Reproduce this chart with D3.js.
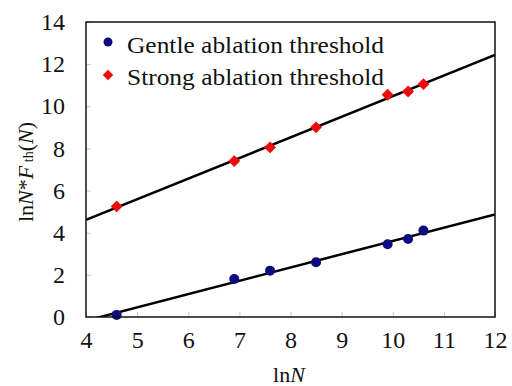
<!DOCTYPE html>
<html>
<head>
<meta charset="utf-8">
<script src="https://cdn.jsdelivr.net/npm/d3@7"></script>
<style>
  body { margin: 0; background: #fff; }
</style>
</head>
<body>
<div id="chart"></div>
<script>
// data
var lnN = [4.6, 6.9, 7.6, 8.5, 9.9, 10.3, 10.6];
var gentle = [0.1, 1.8, 2.2, 2.6, 3.45, 3.7, 4.1];
var strong = [5.25, 7.4, 8.05, 9.0, 10.55, 10.7, 11.05];
var xTicks = [4, 5, 6, 7, 8, 9, 10, 11, 12];
var yTicks = [0, 2, 4, 6, 8, 10, 12, 14];
var seriesNames = ["Gentle ablation threshold", "Strong ablation threshold"];

var width = 512, height = 386;
var margin = {top: 22, right: 17, bottom: 69, left: 86};
var serif = "'Liberation Serif', 'Times New Roman', Times, serif";

var svg = d3.select("#chart").append("svg")
  .attr("width", width)
  .attr("height", height)
  .attr("font-family", serif);

var x = d3.scaleLinear().domain([4, 12]).range([margin.left, width - margin.right]);
var y = d3.scaleLinear().domain([0, 14]).range([height - margin.bottom, margin.top]);

// least squares fit, like the trendline in the original
function fit(xs, ys) {
  var mx = d3.mean(xs), my = d3.mean(ys);
  var sxy = d3.sum(xs, (d, i) => (d - mx) * (ys[i] - my));
  var sxx = d3.sum(xs, d => (d - mx) * (d - mx));
  var b = sxy / sxx;
  return {slope: b, icpt: my - b * mx};
}

// axes with inside ticks
var xAxis = d3.axisBottom(x).tickValues(xTicks).tickSizeInner(-5).tickSizeOuter(0).tickPadding(14);
var yAxis = d3.axisLeft(y).tickValues(yTicks).tickSizeInner(-5).tickSizeOuter(0).tickPadding(21);

var gx = svg.append("g")
  .attr("transform", "translate(0," + (height - margin.bottom) + ")")
  .call(xAxis);
var gy = svg.append("g")
  .attr("transform", "translate(" + margin.left + ",0)")
  .call(yAxis);

[gx, gy].forEach(g => {
  g.attr("font-family", serif).attr("font-size", 24);
  g.select(".domain").remove();
  g.selectAll(".tick line").attr("stroke", "#c8c8c8").attr("stroke-width", 1);
  g.selectAll(".tick text").attr("fill", "#111");
});

// clip region for trendlines
svg.append("clipPath").attr("id", "plotclip")
  .append("rect")
  .attr("x", margin.left).attr("y", margin.top)
  .attr("width", width - margin.left - margin.right)
  .attr("height", height - margin.top - margin.bottom);

var line = d3.line().x(d => x(d[0])).y(d => y(d[1]));

[gentle, strong].forEach(ys => {
  var f = fit(lnN, ys);
  var pts = [4, 12].map(v => [v, f.icpt + f.slope * v]);
  svg.append("path")
    .datum(pts)
    .attr("clip-path", "url(#plotclip)")
    .attr("d", line)
    .attr("fill", "none")
    .attr("stroke", "#000")
    .attr("stroke-width", 2.5);
});

// points
svg.selectAll("circle.gentle")
  .data(lnN.map((v, i) => [v, gentle[i]]))
  .enter()
  .append("circle")
  .attr("class", "gentle")
  .attr("cx", d => x(d[0]))
  .attr("cy", d => y(d[1]))
  .attr("r", 5)
  .attr("fill", "#0c0c80");

var diamond = d3.symbol().type(d3.symbolDiamond2).size(90);
svg.selectAll("path.strong")
  .data(lnN.map((v, i) => [v, strong[i]]))
  .enter()
  .append("path")
  .attr("class", "strong")
  .attr("d", diamond)
  .attr("transform", d => "translate(" + x(d[0]) + "," + y(d[1]) + ")")
  .attr("fill", "#f00a0a");

// frame
svg.append("rect")
  .attr("x", margin.left).attr("y", margin.top)
  .attr("width", width - margin.left - margin.right)
  .attr("height", height - margin.top - margin.bottom)
  .attr("fill", "none")
  .attr("stroke", "#111")
  .attr("stroke-width", 1.5);

// legend
var legend = svg.append("g");
legend.append("circle")
  .attr("cx", 108).attr("cy", 42).attr("r", 4.5)
  .attr("fill", "#0c0c80");
legend.append("path")
  .attr("d", d3.symbol().type(d3.symbolDiamond2).size(70))
  .attr("transform", "translate(108,75)")
  .attr("fill", "#f00a0a");
legend.selectAll("text")
  .data(seriesNames)
  .enter()
  .append("text")
  .attr("x", 127)
  .attr("y", (d, i) => 53 + i * 32)
  .attr("font-size", 22.5)
  .attr("textLength", 257)
  .attr("lengthAdjust", "spacingAndGlyphs")
  .attr("fill", "#111")
  .text(d => d);

// axis titles
var xt = svg.append("text")
  .attr("x", 289).attr("y", 382)
  .attr("text-anchor", "middle")
  .attr("font-size", 22)
  .attr("fill", "#111");
xt.append("tspan").text("ln");
xt.append("tspan").style("font-style", "italic").text("N");

var yt = svg.append("text")
  .attr("transform", "translate(33,172) rotate(-90)")
  .attr("text-anchor", "middle")
  .attr("font-size", 22)
  .attr("fill", "#111");
yt.append("tspan").text("ln");
yt.append("tspan").style("font-style", "italic").text("N");
yt.append("tspan").text("*");
yt.append("tspan").style("font-style", "italic").text("F");
yt.append("tspan").attr("font-size", 14).text(" th");
yt.append("tspan").text("(");
yt.append("tspan").style("font-style", "italic").text("N");
yt.append("tspan").text(")");
</script>
</body>
</html>
